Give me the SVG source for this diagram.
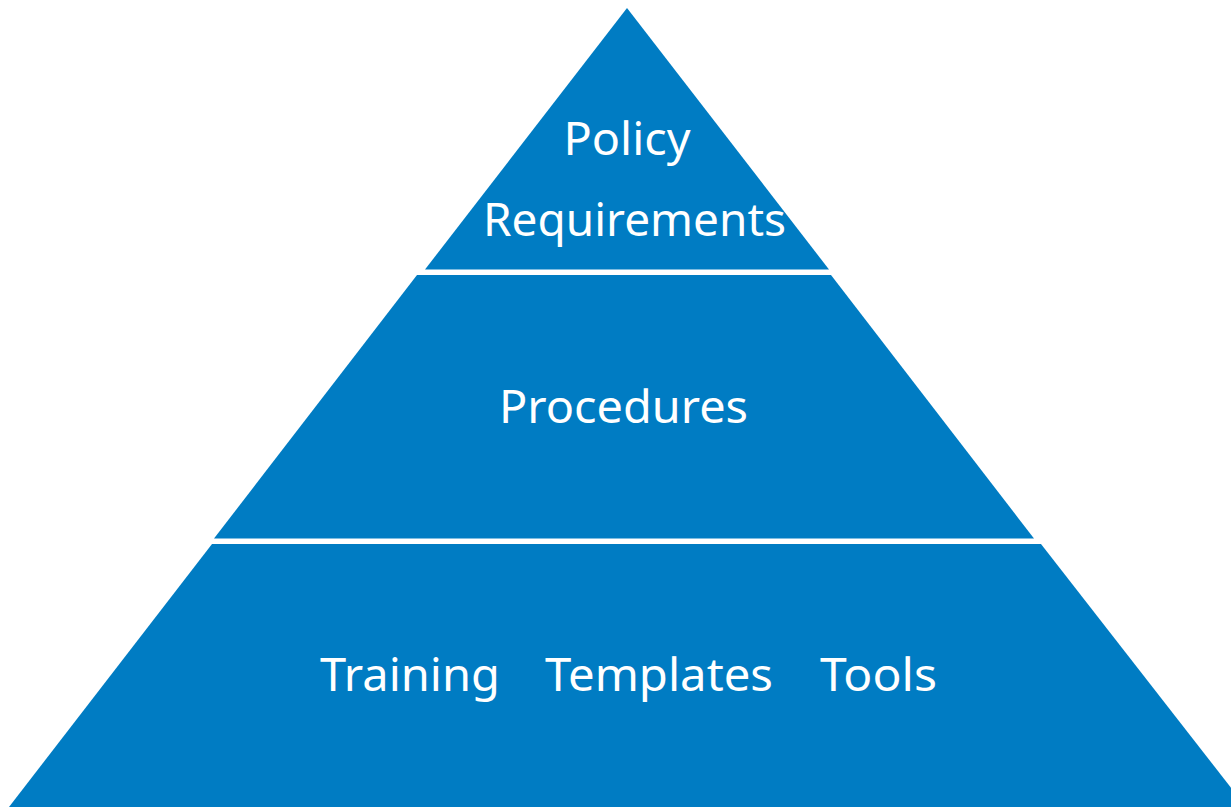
<svg xmlns="http://www.w3.org/2000/svg" width="1231" height="807" viewBox="0 0 1231 807">
<style>
.tier{fill:#007CC3;}
.lbl{fill:#ffffff;font-family:'Comic Sans MS','Noto Sans','DejaVu Sans',sans-serif;font-size:46px;}
</style>
<rect width="1231" height="807" fill="#ffffff"/>
<g id="tier-top">
<polygon class="tier" points="627,8 829,269.5 425,269.5"/>
<text class="lbl" x="627" y="155" text-anchor="middle" textLength="127" lengthAdjust="spacingAndGlyphs">Policy</text>
<text class="lbl" x="634.5" y="236" text-anchor="middle" textLength="303" lengthAdjust="spacingAndGlyphs">Requirements</text>
</g>
<g id="tier-middle">
<polygon class="tier" points="417,275 831,275 1034,538.5 214,538.5"/>
<text class="lbl" x="623.5" y="423" text-anchor="middle" textLength="249" lengthAdjust="spacingAndGlyphs">Procedures</text>
</g>
<g id="tier-bottom">
<polygon class="tier" points="212,544 1041,544 1246,807 9,807"/>
<text class="lbl" y="691"><tspan x="320" textLength="180" lengthAdjust="spacingAndGlyphs">Training</tspan><tspan x="545" textLength="228" lengthAdjust="spacingAndGlyphs">Templates</tspan><tspan x="820" textLength="117" lengthAdjust="spacingAndGlyphs">Tools</tspan></text>
</g>
<g id="connectors"></g>
</svg>
